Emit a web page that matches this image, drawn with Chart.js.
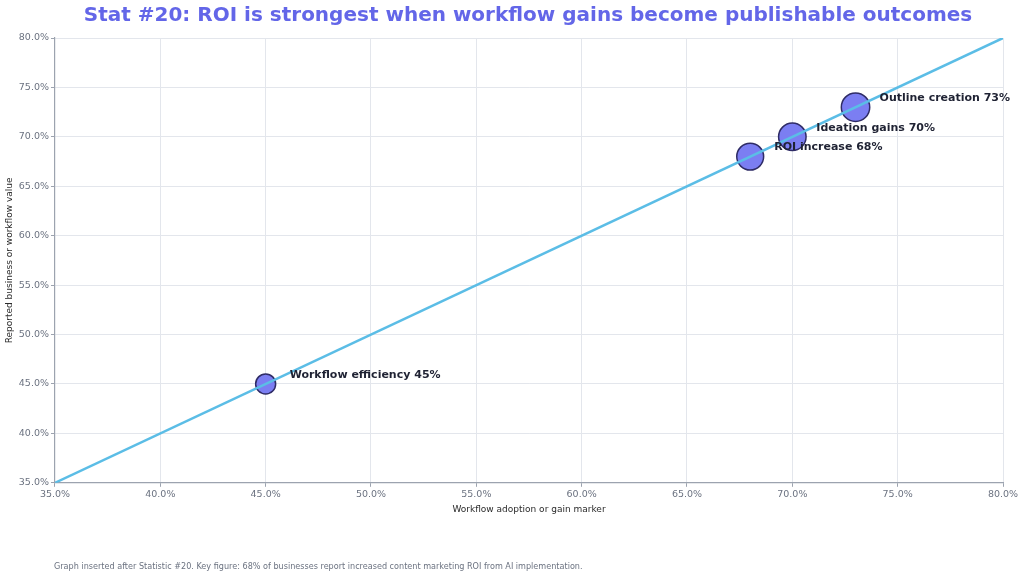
<!DOCTYPE html>
<html>
<head>
<meta charset="utf-8">
<script src="https://cdn.jsdelivr.net/npm/chart.js@4"></script>
<style>
  body { margin: 0; background: #fff; }
  #wrap { position: relative; width: 1024px; height: 577px; }
  #title {
    position: absolute; left: 28px; width: 1000px; top: 2px;
    text-align: center; white-space: nowrap;
    font: bold 20px "DejaVu Sans", sans-serif; color: #6366e8;
  }
  #note {
    position: absolute; left: 54px; top: 561px; white-space: nowrap;
    font: 8.1px "DejaVu Sans", sans-serif; color: #6b7280;
  }
</style>
</head>
<body>
<div id="wrap">
  <canvas id="roiChart" width="1024" height="577"></canvas>
  <div id="title">Stat #20: ROI is strongest when workflow gains become publishable outcomes</div>
  <div id="note">Graph inserted after Statistic #20. Key figure: 68% of businesses report increased content marketing ROI from AI implementation.</div>
</div>
<script>
// Data
const markerLabels = ['Workflow efficiency 45%', 'ROI increase 68%', 'Ideation gains 70%', 'Outline creation 73%'];
const markerX = [45, 68, 70, 73];
const markerY = [45, 68, 70, 73];
const trendX = [35, 80];
const trendY = [35, 80];
const axisMin = 35;
const axisMax = 80;

// labels next to each bubble
const markerLabelPlugin = {
  id: 'markerLabels',
  afterDatasetsDraw(chart) {
    const ctx = chart.ctx;
    const xs = chart.scales.x;
    const ys = chart.scales.y;
    ctx.save();
    ctx.font = 'bold 11px "DejaVu Sans", sans-serif';
    ctx.fillStyle = '#1f2233';
    ctx.textBaseline = 'middle';
    markerLabels.forEach((label, i) => {
      const px = xs.getPixelForValue(markerX[i]);
      const py = ys.getPixelForValue(markerY[i]);
      ctx.fillText(label, px + 24, py - 9);
    });
    ctx.restore();
  }
};

const pct = v => Number(v).toFixed(1) + '%';

new Chart(document.getElementById('roiChart'), {
  type: 'bubble',
  data: {
    datasets: [
      {
        type: 'line',
        data: trendX.map((x, i) => ({ x: x, y: trendY[i] })),
        borderColor: '#5bbde6',
        borderWidth: 2.5,
        pointRadius: 0,
        fill: false,
        order: 0
      },
      {
        data: markerX.map((x, i) => ({ x: x, y: markerY[i], r: 10 + (markerY[i] - 45) * 0.15 })),
        backgroundColor: '#7b7ef2',
        borderColor: '#2f2c66',
        borderWidth: 1.5,
        order: 1
      }
    ]
  },
  options: {
    responsive: false,
    animation: false,
    layout: { padding: { left: 2, right: 21, top: 38, bottom: 58 } },
    plugins: {
      legend: { display: false },
      tooltip: { enabled: false },
      title: { display: false }
    },
    scales: {
      x: {
        type: 'linear',
        min: axisMin,
        max: axisMax,
        ticks: {
          stepSize: 5,
          callback: pct,
          color: '#6b7280',
          font: { family: '"DejaVu Sans", sans-serif', size: 9.5 },
          padding: 2
        },
        grid: { color: '#e3e6ec', tickLength: 4, tickColor: '#9ca3af' },
        border: { color: '#9ca3af', width: 1.2 },
        title: {
          display: true,
          text: 'Workflow adoption or gain marker',
          color: '#2a2a2a',
          font: { family: '"DejaVu Sans", sans-serif', size: 9 },
          padding: { top: 2 }
        }
      },
      y: {
        type: 'linear',
        min: axisMin,
        max: axisMax,
        ticks: {
          stepSize: 5,
          callback: pct,
          color: '#6b7280',
          font: { family: '"DejaVu Sans", sans-serif', size: 9.5 },
          padding: 2
        },
        grid: { color: '#e3e6ec', tickLength: 4, tickColor: '#9ca3af' },
        border: { color: '#9ca3af', width: 1.2 },
        title: {
          display: true,
          text: 'Reported business or workflow value',
          color: '#2a2a2a',
          font: { family: '"DejaVu Sans", sans-serif', size: 9 },
          padding: { top: 2, bottom: 2 }
        }
      }
    }
  },
  plugins: [markerLabelPlugin]
});
</script>
</body>
</html>
